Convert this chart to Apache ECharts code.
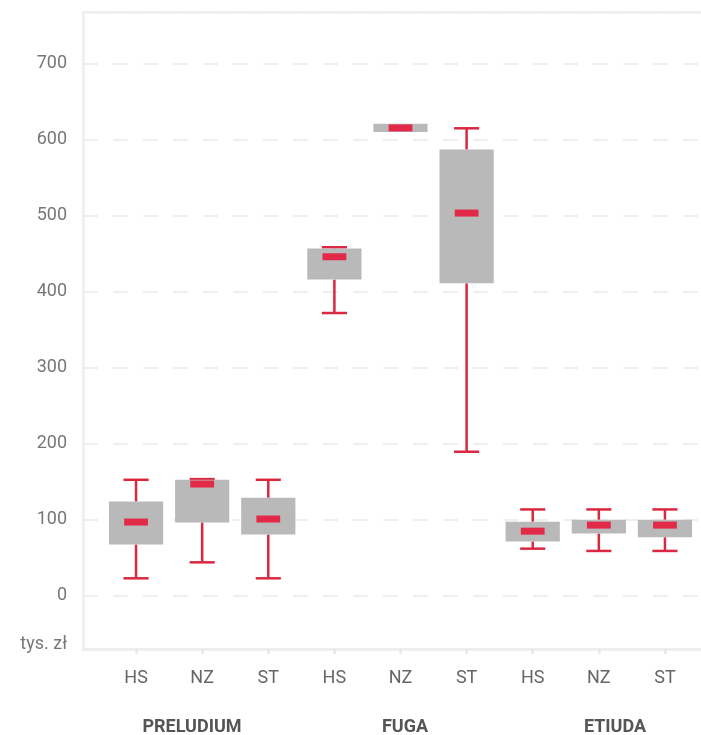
<!DOCTYPE html>
<html>
<head>
<meta charset="utf-8">
<script src="https://cdn.jsdelivr.net/npm/echarts@6/dist/echarts.min.js"></script>
<style>
html,body{margin:0;padding:0;background:#fff;overflow:hidden;}
#chart{width:701px;height:735px;}
</style>
</head>
<body>
<div id="chart"></div>
<script>
const categories = ['HS','NZ','ST','HS','NZ','ST','HS','NZ','ST'];
const groups = ['PRELUDIUM','FUGA','ETIUDA'];
const minVals    = [23,    44,    23,    372,   610,   189.5, 62,    59,    59];
const q1Vals     = [67.5,  96.5,  80.7,  416,   610,   411,   71.5,  82,    77];
const medianVals = [97,    147,   101,   446,   615.5, 503.5, 85,    93,    93];
const q3Vals     = [124,   152.6, 129,   457,   621,   587,   97.4,  100,   100];
const maxVals    = [152.6, 153.5, 152.6, 458.5, 621,   615,   113.6, 113.6, 113.6];
const yTickLabels = [0,100,200,300,400,500,600,700];
const unitLabel = 'tys. zł';

const FONT = 'Roboto';
const RED = '#D92840';
const MED = '#E22A48';
const BOX = '#BAB9BA';
const LINE = '#EEEEEE';

const seriesData = categories.map((c, i) => [i, minVals[i], q1Vals[i], medianVals[i], q3Vals[i], maxVals[i]]);

function renderItem(params, api) {
  const i = api.value(0);
  const pMin = api.coord([i, api.value(1)]);
  const pQ1 = api.coord([i, api.value(2)]);
  const pMed = api.coord([i, api.value(3)]);
  const pQ3 = api.coord([i, api.value(4)]);
  const pMax = api.coord([i, api.value(5)]);
  const band = api.size([1, 0])[0];
  const boxW = band * 0.82;
  const capW = band * 0.38;
  const medW = band * 0.36;
  const cx = pQ1[0];
  const children = [];
  const lineStyle = {stroke: RED, lineWidth: 2.5};
  if (api.value(1) < api.value(2)) {
    children.push({type: 'line', shape: {x1: cx, y1: pQ1[1], x2: cx, y2: pMin[1]}, style: lineStyle});
    children.push({type: 'line', shape: {x1: cx - capW / 2, y1: pMin[1], x2: cx + capW / 2, y2: pMin[1]}, style: lineStyle});
  }
  if (api.value(5) > api.value(4)) {
    children.push({type: 'line', shape: {x1: cx, y1: pQ3[1], x2: cx, y2: pMax[1]}, style: lineStyle});
    children.push({type: 'line', shape: {x1: cx - capW / 2, y1: pMax[1], x2: cx + capW / 2, y2: pMax[1]}, style: lineStyle});
  }
  children.push({type: 'rect', shape: {x: cx - boxW / 2, y: pQ3[1], width: boxW, height: pQ1[1] - pQ3[1]}, style: {fill: BOX}});
  children.push({type: 'rect', shape: {x: cx - medW / 2, y: pMed[1] - 3.5, width: medW, height: 7}, style: {fill: MED}});
  return {type: 'group', children: children};
}

const chart = echarts.init(document.getElementById('chart'), null, {renderer: 'canvas'});
const groupCenters = [192, 405, 615];
const frameAxis = (pos, w) => ({
  type: 'value', gridIndex: 0, position: pos, min: 0, max: 1,
  axisLine: {show: true, onZero: false, lineStyle: {color: LINE, width: w}},
  axisTick: {show: false}, axisLabel: {show: false}, splitLine: {show: false}, splitArea: {show: false}
});
chart.setOption({
  animation: false,
  backgroundColor: '#fff',
  grid: [
    {left: 83, right: -6, top: 12, bottom: 86, show: false},
    {left: 103, right: 3, top: 12, bottom: 86, show: false}
  ],
  xAxis: [
    frameAxis('bottom', 3),
    frameAxis('top', 2.5),
    {type: 'category', gridIndex: 1, data: categories, position: 'bottom',
      axisLine: {show: false, onZero: false},
      axisTick: {show: true, alignWithLabel: true, length: 5, lineStyle: {color: '#E8E8E8', width: 2.5}},
      axisLabel: {margin: 20, color: '#666', fontSize: 18, fontFamily: FONT},
      splitLine: {show: false}, splitArea: {show: false}}
  ],
  yAxis: [
    {type: 'value', gridIndex: 0, min: -70, max: 768, splitNumber: 9, position: 'left',
      axisLine: {show: true, onZero: false, lineStyle: {color: LINE, width: 2.5}},
      axisTick: {show: false},
      axisLabel: {margin: 16, color: '#777', fontSize: 18, fontFamily: FONT,
        formatter: v => yTickLabels.indexOf(v) >= 0 ? String(v) : ''},
      splitLine: {show: true, lineStyle: {color: '#EFEFEF', width: 2, type: [15, 15]}},
      splitArea: {show: false}},
    {type: 'value', gridIndex: 1, min: -70, max: 768, position: 'left', show: false,
      axisLine: {show: false, onZero: false}, splitLine: {show: false}}
  ],
  series: [{
    type: 'custom',
    xAxisIndex: 2,
    yAxisIndex: 1,
    renderItem: renderItem,
    encode: {x: 0, y: [1, 2, 3, 4, 5]},
    data: seriesData,
    z: 5
  }],
  graphic: [
    {type: 'text', x: 67, y: 644, style: {text: unitLabel, fill: '#777', font: '18px ' + FONT, textAlign: 'right', textVerticalAlign: 'middle'}},
    ...groups.map((g, k) => ({type: 'text', x: groupCenters[k], y: 727, style: {text: g, fill: '#555', font: 'bold 18px ' + FONT, textAlign: 'center', textVerticalAlign: 'middle', letterSpacing: 1.6}}))
  ]
});
</script>
</body>
</html>
